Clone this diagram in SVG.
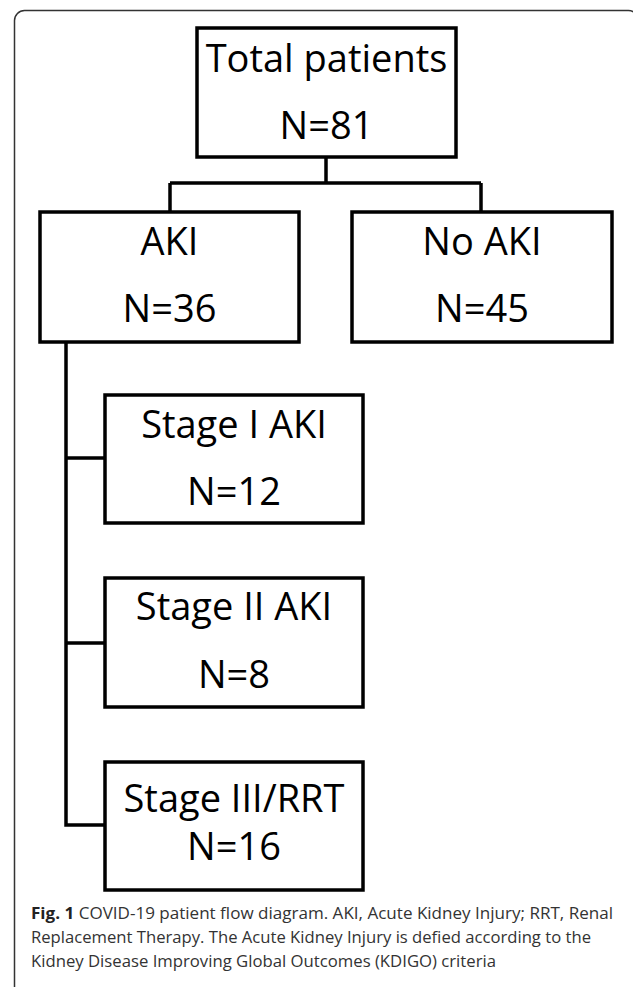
<svg xmlns="http://www.w3.org/2000/svg" width="633" height="987" viewBox="0 0 633 987">
<style>
.box{fill:#fff;stroke:#000;stroke-width:3.5}
.lbl{font-family:"Open Sans","Noto Sans",sans-serif;font-size:38px;fill:#000;text-anchor:middle}
.conn{fill:none;stroke:#000;stroke-width:3.5}
.cap{font-family:"Open Sans","Noto Sans",sans-serif;font-size:16.5px;fill:#333}
</style>
<rect width="633" height="987" fill="#fff"/>
<rect x="14.5" y="10.5" width="624" height="1000" rx="10" fill="none" stroke="#333" stroke-width="1.5"/>
<g id="connectors">
<path class="conn" d="M326,157 V183 M170,183 H481 M170,183 V212 M481,183 V212"/>
<path class="conn" d="M66,342 V825 H105 M66,458 H105 M66,643 H105"/>
</g>
<g id="total">
<rect class="box" x="197" y="28" width="259" height="129"/>
<text class="lbl" x="326.5" y="72">Total patients</text>
<text class="lbl" x="326.5" y="139">N=81</text>
</g>
<g id="aki">
<rect class="box" x="40" y="212" width="259" height="130"/>
<text class="lbl" x="169.5" y="255">AKI</text>
<text class="lbl" x="169.5" y="322">N=36</text>
</g>
<g id="noaki">
<rect class="box" x="352" y="212" width="260" height="130"/>
<text class="lbl" x="482" y="255">No AKI</text>
<text class="lbl" x="482" y="322">N=45</text>
</g>
<g id="stage1">
<rect class="box" x="105" y="395" width="258" height="128"/>
<text class="lbl" x="234" y="438">Stage I AKI</text>
<text class="lbl" x="234" y="505">N=12</text>
</g>
<g id="stage2">
<rect class="box" x="105" y="578" width="258" height="129"/>
<text class="lbl" x="234" y="620">Stage II AKI</text>
<text class="lbl" x="234" y="688">N=8</text>
</g>
<g id="stage3">
<rect class="box" x="105" y="762" width="258" height="128"/>
<text class="lbl" x="234" y="812">Stage III/RRT</text>
<text class="lbl" x="234" y="860">N=16</text>
</g>
<g id="caption">
<text class="cap" x="31" y="919" textLength="582" lengthAdjust="spacingAndGlyphs"><tspan font-weight="bold" fill="#222">Fig. 1</tspan> COVID-19 patient flow diagram. AKI, Acute Kidney Injury; RRT, Renal</text>
<text class="cap" x="31" y="943" textLength="560" lengthAdjust="spacingAndGlyphs">Replacement Therapy. The Acute Kidney Injury is defied according to the</text>
<text class="cap" x="31" y="967" textLength="465" lengthAdjust="spacingAndGlyphs">Kidney Disease Improving Global Outcomes (KDIGO) criteria</text>
</g>
</svg>
